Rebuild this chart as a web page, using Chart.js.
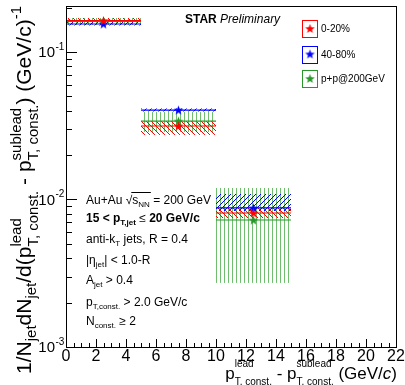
<!DOCTYPE html>
<html>
<head>
<meta charset="utf-8">
<script src="https://cdn.jsdelivr.net/npm/chart.js@4.4.0/dist/chart.umd.min.js"></script>
<style>
  html, body { margin: 0; padding: 0; background: #fff; }
  canvas { display: block; }
</style>
</head>
<body>
<canvas id="c" width="405" height="385"></canvas>
<script>
// bins of p_T,const lead - p_T,const sublead (GeV/c)
const binLow = [0, 5, 10];
const binHigh = [5, 10, 15];
const binCenter = [2.5, 7.5, 12.5];

// 0-20% Au+Au
const central = [0.1634, 0.0315, 0.00810];
const centralSysLow = [0.1572, 0.0274, 0.00749];
const centralSysHigh = [0.170, 0.0340, 0.00876];
// 40-80% Au+Au
const peripheral = [0.1548, 0.0404, 0.00876];
const periphSysLow = [0.1513, 0.0395, 0.00836];
const periphSysHigh = [0.1585, 0.0414, 0.0109];
// p+p 200 GeV
const pp = [0.1610, 0.0340, 0.00726];
const ppSysLow = [0.1524, 0.0287, 0.00272];
const ppSysHigh = [0.170, 0.0392, 0.01197];

const xTicks = [0, 2, 4, 6, 8, 10, 12, 14, 16, 18, 20, 22];
const yDecades = [0.001, 0.01, 0.1];
const yDecadeExp = ['-3', '-2', '-1'];
const legendLabels = ['0-20%', '40-80%', 'p+p@200GeV'];

const RED = '#ff0000', BLUE = '#0000ff', GREEN = 'rgb(40,150,40)', LGREEN = 'rgb(110,190,110)';
const FAM = '"Liberation Sans", Arial, sans-serif';
function font(size, style) { return (style || '') + ' ' + size + 'px ' + FAM; }

function star(color, r) {
  const size = 2 * r + 1;
  const c = document.createElement('canvas');
  c.width = size; c.height = size;
  const g = c.getContext('2d');
  g.fillStyle = color;
  g.beginPath();
  for (let i = 0; i < 10; i++) {
    const a = -Math.PI / 2 + i * Math.PI / 5;
    const rr = i % 2 ? r * 0.42 : r;
    g.lineTo(size / 2 + rr * Math.cos(a), size / 2 + 0.5 + rr * Math.sin(a));
  }
  g.closePath();
  g.fill();
  return c;
}

function hatch(ctx, color, kind) {
  const s = kind === 'v' ? 4 : 5;
  const c = document.createElement('canvas');
  c.width = s; c.height = s;
  const g = c.getContext('2d');
  g.strokeStyle = color; g.lineWidth = 1;
  g.beginPath();
  if (kind === 'v') { g.moveTo(0.5, 0); g.lineTo(0.5, s); }
  else if (kind === 'bs') { for (let k = -1; k <= 1; k++) { g.moveTo(k * s, 0); g.lineTo(k * s + s, s); } }
  else { for (let k = -1; k <= 1; k++) { g.moveTo(k * s, s); g.lineTo(k * s + s, 0); } }
  g.stroke();
  return ctx.createPattern(c, 'repeat');
}

function partWidth(ctx, p) {
  if (p.stack) return Math.max(...p.stack.map(q => partWidth(ctx, q)));
  ctx.font = p.f;
  return ctx.measureText(p.t).width;
}
function totalWidth(ctx, parts) {
  return parts.reduce((s, p) => s + partWidth(ctx, p), 0);
}
function drawParts(ctx, parts, x, y) {
  let cx = x;
  parts.forEach(p => {
    const list = p.stack ? p.stack : [p];
    list.forEach(q => { ctx.font = q.f; ctx.fillText(q.t, cx, y + (q.dy || 0)); });
    cx += partWidth(ctx, p);
  });
  return cx;
}

function hLine(vals) {
  const d = [];
  vals.forEach((v, i) => {
    d.push({ x: binLow[i], y: v }, { x: binHigh[i], y: v }, { x: binHigh[i], y: null });
  });
  return d;
}
function pts(vals) { return vals.map((v, i) => ({ x: binCenter[i], y: v })); }

const bands = [
  { low: ppSysLow, high: ppSysHigh, color: LGREEN, kind: 'v' },
  { low: centralSysLow, high: centralSysHigh, color: RED, kind: 'bs' },
  { low: periphSysLow, high: periphSysHigh, color: BLUE, kind: 'fs' }
];

const bandsPlugin = {
  id: 'bands',
  beforeDatasetsDraw(chart) {
    const ctx = chart.ctx, xs = chart.scales.x, ys = chart.scales.y;
    ctx.save();
    bands.forEach(b => {
      ctx.fillStyle = hatch(ctx, b.color, b.kind);
      binLow.forEach((lo, i) => {
        const x0 = xs.getPixelForValue(lo), x1 = xs.getPixelForValue(binHigh[i]);
        const y0 = ys.getPixelForValue(b.high[i]), y1 = ys.getPixelForValue(b.low[i]);
        ctx.fillRect(x0, y0, x1 - x0, y1 - y0);
      });
    });
    ctx.restore();
  }
};

const framePlugin = {
  id: 'frame',
  afterDraw(chart) {
    const ctx = chart.ctx, a = chart.chartArea, xs = chart.scales.x, ys = chart.scales.y;
    ctx.save();
    ctx.strokeStyle = '#000'; ctx.fillStyle = '#000'; ctx.lineWidth = 1;
    ctx.strokeRect(Math.round(a.left) + 0.5, Math.round(a.top) + 0.5, Math.round(a.right - a.left), Math.round(a.bottom - a.top));

    // x ticks
    ctx.beginPath();
    for (let v = xs.min; v <= xs.max + 1e-9; v += 0.5) {
      const px = Math.round(xs.getPixelForValue(v)) + 0.5;
      const len = xTicks.includes(v) ? 8 : 4;
      ctx.moveTo(px, a.bottom); ctx.lineTo(px, a.bottom - len);
    }
    // y ticks
    yDecades.forEach(d => {
      for (let k = 1; k <= 9; k++) {
        const v = d * k;
        if (v > ys.max) break;
        const py = Math.round(ys.getPixelForValue(v)) + 0.5;
        ctx.moveTo(a.left, py); ctx.lineTo(a.left + (k === 1 ? 11 : 6), py);
      }
    });
    ctx.stroke();

    // x tick labels
    ctx.font = font(16);
    ctx.textAlign = 'center'; ctx.textBaseline = 'top';
    xTicks.forEach(v => ctx.fillText(String(v), xs.getPixelForValue(v), a.bottom + 2));

    // y tick labels
    yDecades.forEach((d, i) => {
      const py = ys.getPixelForValue(d);
      ctx.textBaseline = 'middle'; ctx.textAlign = 'right';
      ctx.font = font(15);
      ctx.fillText('10', 55, py + 1);
      ctx.textAlign = 'left'; ctx.font = font(10);
      ctx.fillText(yDecadeExp[i], 55.5, py - 5);
    });

    // axis titles
    ctx.textAlign = 'left'; ctx.textBaseline = 'alphabetic';
    const M = font(17), S = font(10);
    const xTitle = [
      { t: 'p', f: M },
      { stack: [{ t: 'lead', f: S, dy: -12 }, { t: 'T, const.', f: S, dy: 6 }] },
      { t: ' - p', f: M },
      { stack: [{ t: 'sublead', f: S, dy: -12 }, { t: 'T, const.', f: S, dy: 6 }] },
      { t: ' (GeV/', f: M }, { t: 'c', f: font(17, 'italic') }, { t: ')', f: M }
    ];
    drawParts(ctx, xTitle, 397 - totalWidth(ctx, xTitle), 379);

    const YM = font(21), YS = font(15);
    const yTitle = [
      { t: '1/N', f: YM }, { t: 'jet', f: YS, dy: 5 },
      { t: 'dN', f: YM }, { t: 'jet', f: YS, dy: 5 },
      { t: '/d(p', f: YM },
      { stack: [{ t: 'lead', f: YS, dy: -10 }, { t: 'T, const.', f: YS, dy: 7 }] },
      { t: ' - p', f: YM },
      { stack: [{ t: 'sublead', f: YS, dy: -10 }, { t: 'T, const.', f: YS, dy: 7 }] },
      { t: ') (GeV/c)', f: YM }, { t: '-1', f: YS, dy: -10 }
    ];
    const yw = totalWidth(ctx, yTitle);
    ctx.save();
    ctx.translate(31, 190 + yw / 2);
    ctx.rotate(-Math.PI / 2);
    drawParts(ctx, yTitle, 0, 0);
    ctx.restore();

    // STAR Preliminary
    ctx.font = font(12, 'bold');
    ctx.fillText('STAR', 185, 23);
    const sw = ctx.measureText('STAR ').width;
    ctx.font = font(12, 'italic');
    ctx.fillText('Preliminary', 185 + sw, 23);

    // info text
    const T = font(12), TB = font(12, 'bold'), TS = font(8), TSB = font(8, 'bold');
    const x0 = 86;
    let ex = drawParts(ctx, [{ t: 'Au+Au ', f: T }], x0, 204);
    ctx.font = T; ctx.fillText('\u221A', ex, 204);
    const rx = ex + ctx.measureText('\u221A').width;
    const ex2 = drawParts(ctx, [{ t: 's', f: T }, { t: 'NN', f: TS, dy: 3 }], rx, 204);
    ctx.beginPath(); ctx.moveTo(rx - 1, 192.5); ctx.lineTo(ex2 + 1, 192.5); ctx.stroke();
    drawParts(ctx, [{ t: ' = 200 GeV', f: T }], ex2, 204);
    drawParts(ctx, [{ t: '15 < p', f: TB }, { t: 'T,jet', f: TSB, dy: 3 }, { t: ' \u2264 ', f: T }, { t: '20 GeV/c', f: TB }], x0, 222);
    drawParts(ctx, [{ t: 'anti-k', f: T }, { t: 'T', f: TS, dy: 3 }, { t: ' jets, R = 0.4', f: T }], x0, 243);
    drawParts(ctx, [{ t: '|\u03B7', f: T }, { t: 'jet', f: TS, dy: 3 }, { t: '| < 1.0-R', f: T }], x0, 264);
    drawParts(ctx, [{ t: 'A', f: T }, { t: 'jet', f: TS, dy: 3 }, { t: ' > 0.4', f: T }], x0, 284);
    drawParts(ctx, [{ t: 'p', f: T }, { t: 'T,const.', f: TS, dy: 3 }, { t: ' > 2.0 GeV/c', f: T }], x0, 306);
    drawParts(ctx, [{ t: 'N', f: T }, { t: 'const.', f: TS, dy: 3 }, { t: ' \u2265 2', f: T }], x0, 325);

    // legend
    const lcol = [RED, BLUE, GREEN];
    const lcy = [28.5, 54, 78.5];
    lcol.forEach((c, i) => {
      ctx.strokeStyle = c;
      ctx.strokeRect(302.5, Math.round(lcy[i] - 8.5) + 0.5, 15, 17);
      const img = starImgs[i];
      ctx.drawImage(img, 310 - img.width / 2, lcy[i] - img.height / 2);
      ctx.fillStyle = '#000'; ctx.font = font(10);
      ctx.textBaseline = 'middle';
      ctx.fillText(legendLabels[i], 321, lcy[i] + 1);
      ctx.textBaseline = 'alphabetic';
    });
    ctx.restore();
  }
};

const starImgs = [star(RED, 5), star(BLUE, 5), star(GREEN, 5)];

const chart = new Chart(document.getElementById('c'), {
  type: 'line',
  data: {
    datasets: [
      { data: pts(central), showLine: false, pointStyle: starImgs[0] },
      { data: pts(peripheral), showLine: false, pointStyle: starImgs[1] },
      { data: pts(pp), showLine: false, pointStyle: starImgs[2] },
      { data: hLine(central), borderColor: RED, borderWidth: 1.2, pointRadius: 0 },
      { data: hLine(peripheral), borderColor: BLUE, borderWidth: 1.2, pointRadius: 0 },
      { data: hLine(pp), borderColor: GREEN, borderWidth: 1.2, pointRadius: 0 }
    ]
  },
  options: {
    responsive: false,
    animation: false,
    layout: { padding: { left: 66, right: 9, top: 6, bottom: 38 } },
    plugins: { legend: { display: false }, tooltip: { enabled: false } },
    scales: {
      x: { type: 'linear', min: 0, max: 22, display: false },
      y: { type: 'logarithmic', min: 0.001, max: 0.205, display: false }
    }
  },
  plugins: [bandsPlugin, framePlugin]
});
</script>
</body>
</html>
